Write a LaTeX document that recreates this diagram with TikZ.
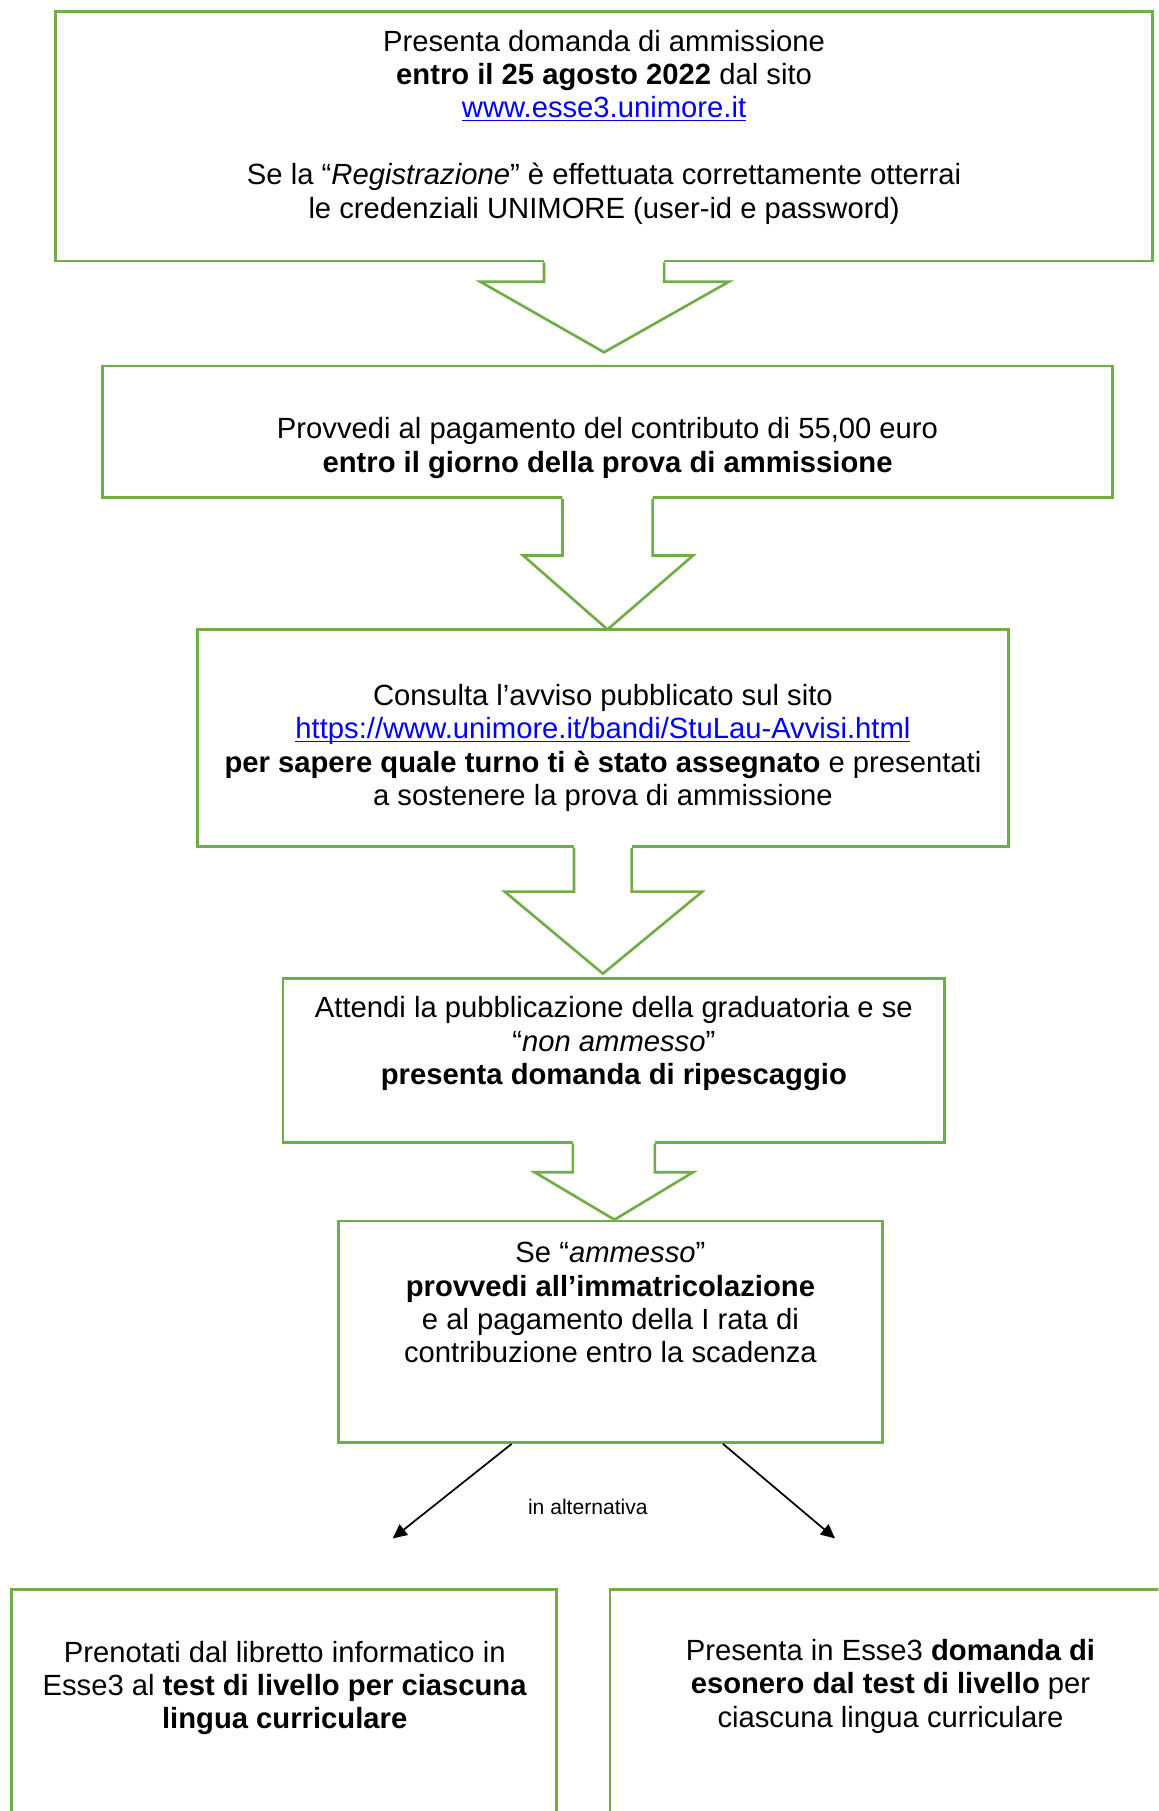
\documentclass[tikz,border=0pt]{standalone}
\usepackage{fontspec}
\setmainfont{Liberation Sans}
\usetikzlibrary{fit,calc,arrows.meta}
\definecolor{boxgreen}{HTML}{70AD47}
\newcommand\lnk[1]{\textcolor{blue}{\underline{\smash{#1}}}}
\newcommand\myblockarrow[7]{%
  \fill[white] ($(#2,0 |- #1.south)+(0,-6)$) -- (#2,#4) -- (#5,#4) -- (#7) -- (#6,#4) -- (#3,#4) -- ($(#3,0 |- #1.south)+(0,-6)$) -- cycle;
  \draw[arrline] (#2,0 |- #1.south) -- (#2,#4) -- (#5,#4) -- (#7) -- (#6,#4) -- (#3,#4) -- (#3,0 |- #1.south);
}
\tikzset{
  box/.style={draw=boxgreen, line width=1.3pt, inner sep=0pt, fill=white},
  arrline/.style={draw=boxgreen, line width=1.3pt, line join=miter},
  txt/.style={align=center, inner sep=0pt, font=\fontsize{14.4}{16.44}\selectfont},
  thinarrow/.style={draw=black, line width=0.85pt, -{Triangle[length=7pt,width=6.5pt]}},
}
\begin{document}
\begin{tikzpicture}[x=0.02cm,y=-0.02cm]
\useasboundingbox[fill=white] (0,0) rectangle (1003,1568);
\begin{scope}
\clip (0,0) rectangle (1003,1568);
% boxes
\node[box, fit={(48,10) (998,226)}] (b1) {};
\node[box, fit={(89,317) (963,431)}] (b2) {};
\node[box, fit={(171,545) (873,733)}] (b3) {};
\node[box, fit={(245,847) (818,989)}] (b4) {};
\node[box, fit={(293,1057) (764,1249)}] (b5) {};
\node[box, fit={(10,1376) (482,1620)}] (b6) {};
\node[box, fit={(528,1376) (1060,1620)}] (b7) {};
% texts
\node[txt] (t1) at (523,110) {Presenta domanda di ammissione\\
  \textbf{entro il 25 agosto 2022} dal sito\\
  \lnk{www.esse3.unimore.it}\\[16.44pt]
  Se la “\textit{Registrazione}” è effettuata correttamente otterrai\\
  le credenziali UNIMORE (user-id e password)};
\node[txt] (t2) at (526,388) {Provvedi al pagamento del contributo di 55,00 euro\\
  \textbf{entro il giorno della prova di ammissione}};
\node[txt] (t3) at (522,647.5) {Consulta l’avviso pubblicato sul sito\\
  \lnk{https://www.unimore.it/bandi/StuLau-Avvisi.html}\\
  \textbf{per sapere quale turno ti è stato assegnato} e presentati\\
  a sostenere la prova di ammissione};
\node[txt] (t4) at (531.5,903.5) {Attendi la pubblicazione della graduatoria e se\\
  “\textit{non ammesso}”\\
  \textbf{presenta domanda di ripescaggio}};
\node[txt] (t5) at (528.5,1128) {Se “\textit{ammesso}”\\
  \textbf{provvedi all’immatricolazione}\\
  e al pagamento della I rata di\\
  contribuzione entro la scadenza};
\node[txt] (t6) at (246.5,1461.5) {Prenotati dal libretto informatico in\\
  Esse3 al \textbf{test di livello per ciascuna}\\
  \textbf{lingua curriculare}};
\node[txt] (t7) at (771,1460) {Presenta in Esse3 \textbf{domanda di}\\
  \textbf{esonero dal test di livello} per\\
  ciascuna lingua curriculare};
% block arrows
\myblockarrow{b1}{471}{575}{244}{416}{631}{523,305}
\myblockarrow{b2}{487}{565}{481}{453}{600}{526,545}
\myblockarrow{b3}{497}{547}{772}{437}{608}{522,843}
\myblockarrow{b4}{496}{567}{1015}{463}{600}{532,1056}
% alternative arrows
\coordinate (s1) at (443,0 |- b5.south);
\coordinate (s2) at (626,0 |- b5.south);
\coordinate (e1) at (340,1332);
\coordinate (e2) at (723,1332);
\draw[thinarrow] (s1) -- (e1);
\draw[thinarrow] (s2) -- (e2);
\node[inner sep=0pt, font=\fontsize{10.4}{12}\selectfont] (lbl) at (509,1305) {in alternativa};
\end{scope}
\end{tikzpicture}
\end{document}
